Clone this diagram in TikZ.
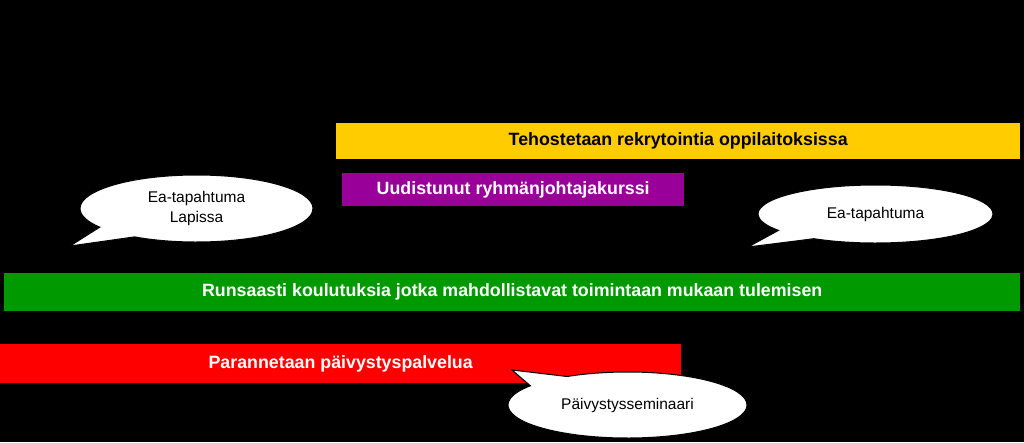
\documentclass[tikz,border=0pt]{standalone}
\usepackage{fontspec}
\setmainfont{Liberation Sans}
\usetikzlibrary{shapes.callouts}

\definecolor{baryellow}{RGB}{255,204,0}
\definecolor{barpurple}{RGB}{153,0,153}
\definecolor{bargreen}{RGB}{0,153,0}
\definecolor{barred}{RGB}{255,0,0}

\tikzset{
  barbox/.style={rectangle, anchor=north west, inner sep=0pt, text=white,
    font=\fontsize{17.8}{20}\selectfont\bfseries},
  bubble/.style={ellipse callout, draw=black, line width=1pt, fill=white,
    inner sep=0pt, align=center, callout pointer arc=24,
    font=\fontsize{15.5}{20}\selectfont}
}

\begin{document}
\begin{tikzpicture}[x=1pt,y=-1pt]

	%The black sheet
	\useasboundingbox (0,0) rectangle (1024,442);
	\fill[black] (0,0) rectangle (1024,442);

    %The bars
    \node[barbox, fill=baryellow, text=black, minimum width=684pt, minimum height=36pt] (rekry) at (336,123) {Tehostetaan rekrytointia oppilaitoksissa};
    \node[barbox, fill=barpurple, minimum width=342pt, minimum height=33pt] (kurssi) at (342,173) {Uudistunut ryhmänjohtajakurssi};
    \node[barbox, fill=bargreen, minimum width=1016pt, minimum height=38pt] (koulutus) at (4,273) {Runsaasti koulutuksia jotka mahdollistavat toimintaan mukaan tulemisen};
    \node[barbox, fill=barred, minimum width=681pt, minimum height=39pt] (paivystys) at (0,344) {Parannetaan päivystyspalvelua};

    %The bubbles
    \node[bubble, minimum width=233pt, minimum height=67pt, callout absolute pointer={(70,246)}] (lappi) at (196.5,208.5) {Ea-tapahtuma\\Lapissa};
    \node[bubble, minimum width=235pt, minimum height=58pt, callout absolute pointer={(748,247)}] (ea) at (875.5,214) {Ea-tapahtuma};
    \node[bubble, minimum width=239pt, minimum height=66pt, callout absolute pointer={(512,370)}] (seminaari) at (627.5,405) {Päivystysseminaari};

\end{tikzpicture}
\end{document}
